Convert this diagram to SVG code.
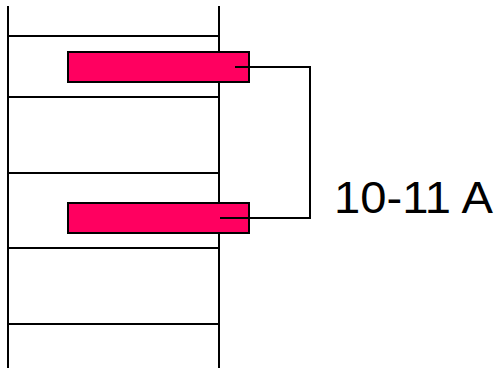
<svg xmlns="http://www.w3.org/2000/svg" width="500" height="370" viewBox="0 0 500 370">
<style>
.ln{stroke:#000;stroke-width:2;fill:none}
.bar{fill:#ff0060;stroke:#000;stroke-width:2}
</style>
<rect width="500" height="370" fill="#fff"/>
<g id="ladder">
<line class="ln" x1="8" y1="6" x2="8" y2="368"/>
<line class="ln" x1="219" y1="6" x2="219" y2="368"/>
<line class="ln" x1="8" y1="36" x2="219" y2="36"/>
<line class="ln" x1="8" y1="97" x2="219" y2="97"/>
<line class="ln" x1="8" y1="173" x2="219" y2="173"/>
<line class="ln" x1="8" y1="248" x2="219" y2="248"/>
<line class="ln" x1="8" y1="324" x2="219" y2="324"/>
</g>
<g id="bar1"><rect class="bar" x="68" y="52" width="181" height="30"/></g>
<g id="bar2"><rect class="bar" x="68" y="203" width="181" height="30"/></g>
<g id="connectors">
<polyline class="ln" points="235,67 310,67 310,218 220,218"/>
</g>
<g id="label"><text x="334" y="213" textLength="159" lengthAdjust="spacingAndGlyphs" font-family="'Liberation Sans', Arial, Helvetica, sans-serif" font-size="45" fill="#000">10-11 A</text></g>
</svg>
